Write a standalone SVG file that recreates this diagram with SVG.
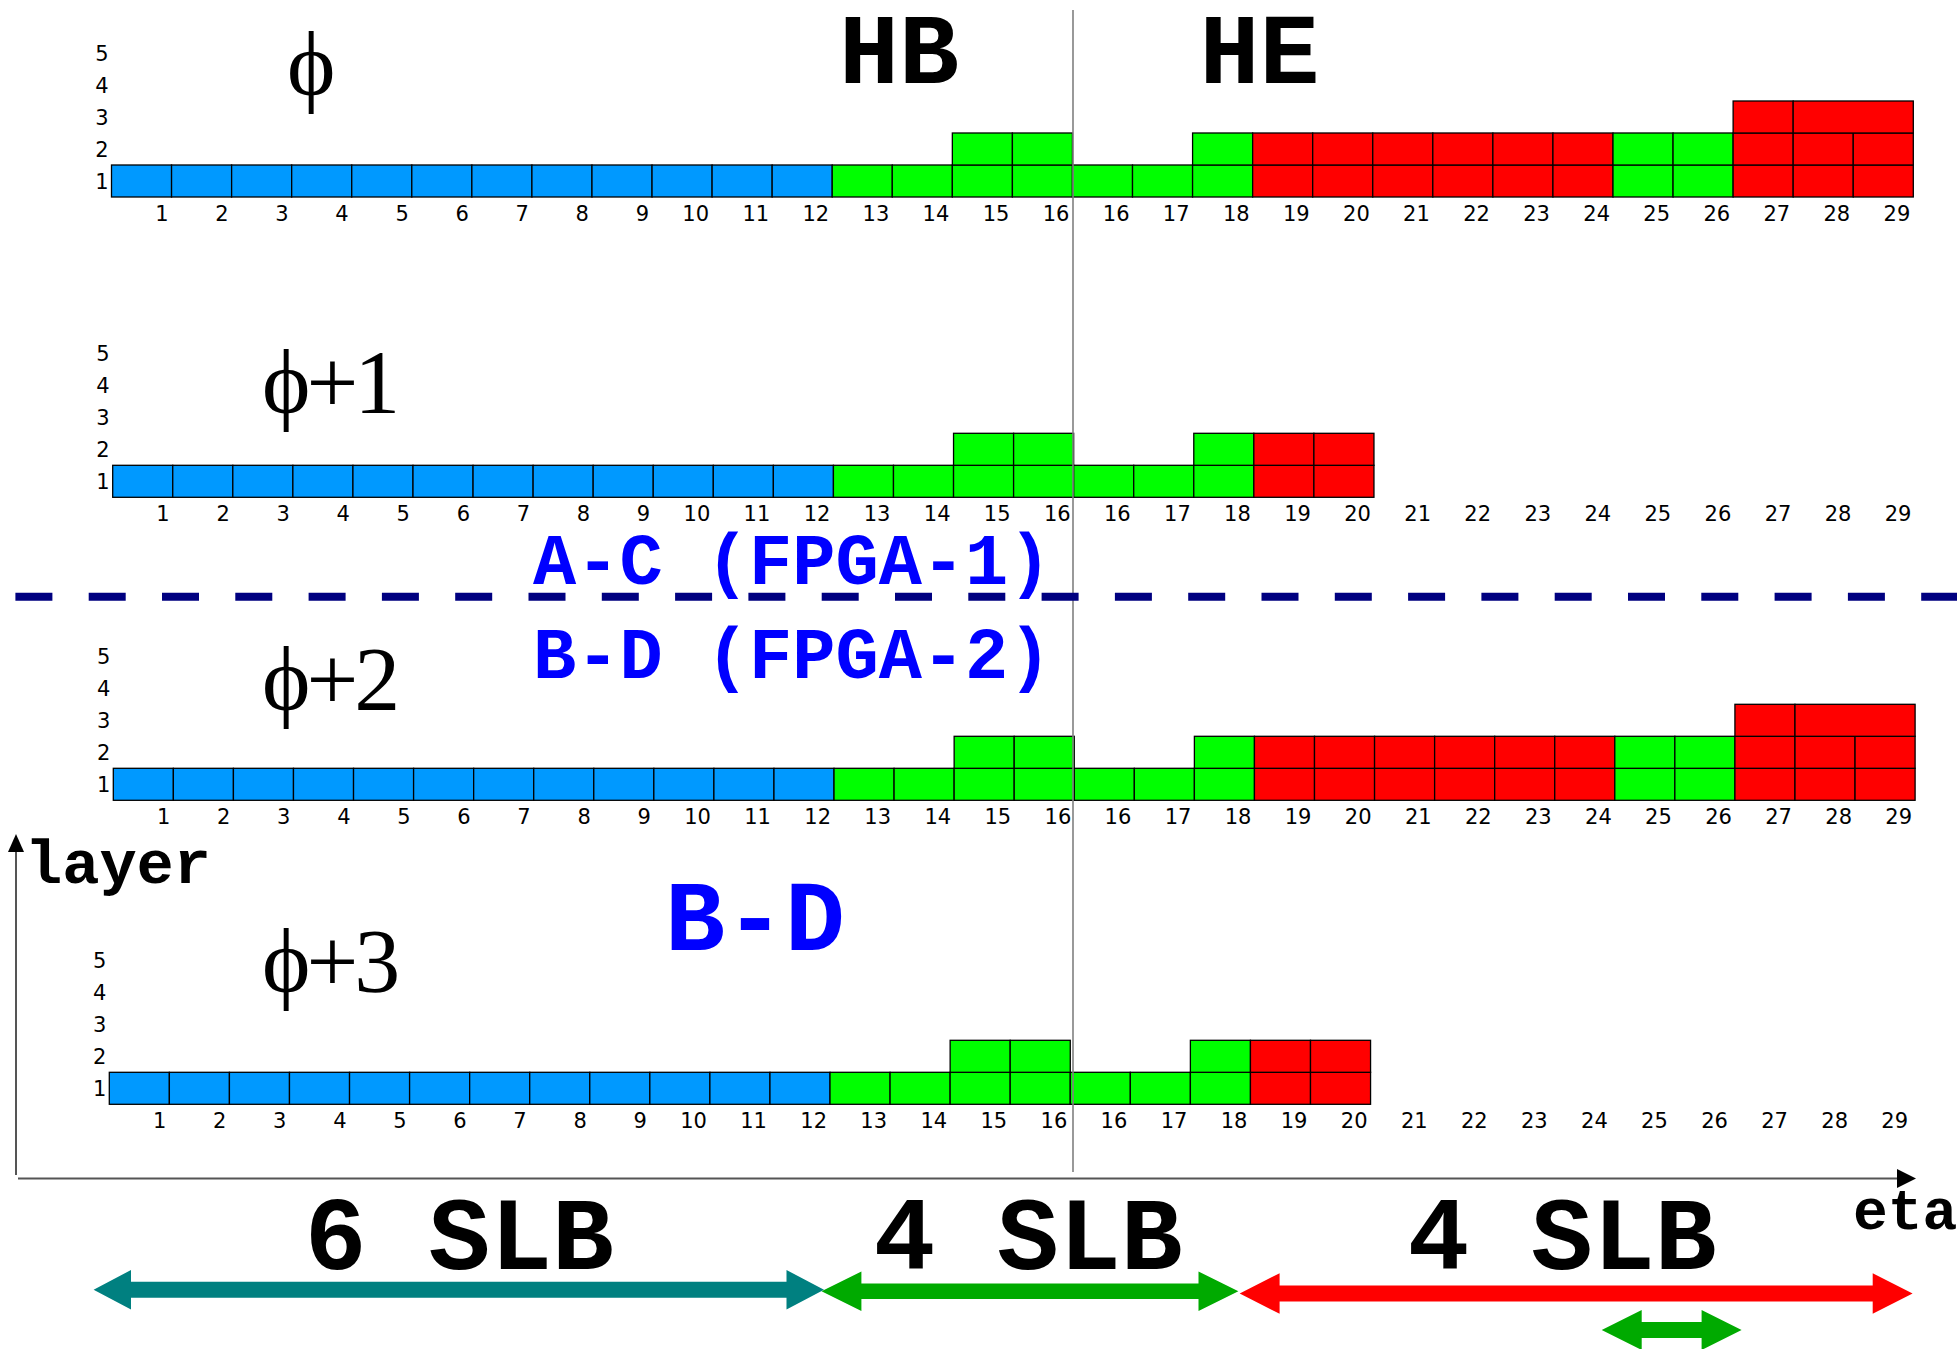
<svg xmlns="http://www.w3.org/2000/svg" width="1957" height="1349" viewBox="0 0 1957 1349">
<style>
.b{fill:#0099ff;stroke:#000;stroke-width:1.3}
.g{fill:#00ff00;stroke:#000;stroke-width:1.3}
.r{fill:#ff0000;stroke:#000;stroke-width:1.3}
.num{font-family:"DejaVu Sans","Liberation Sans",sans-serif;font-size:21px;fill:#000}
.cn{text-anchor:end}
.phi{font-family:"Liberation Serif","Times New Roman",serif;font-size:92px;fill:#000;letter-spacing:-4px}
.mono{font-family:"Liberation Mono","Courier New",monospace;font-weight:bold}
</style>
<defs>
<g id="colnums" class="num cn">
<text x="57.06" y="55.5">1</text><text x="117.12" y="55.5">2</text><text x="177.18" y="55.5">3</text><text x="237.24" y="55.5">4</text><text x="297.3" y="55.5">5</text><text x="357.36" y="55.5">6</text><text x="417.42" y="55.5">7</text><text x="477.48" y="55.5">8</text><text x="537.54" y="55.5">9</text><text x="597.6" y="55.5">10</text><text x="657.66" y="55.5">11</text><text x="717.72" y="55.5">12</text><text x="777.78" y="55.5">13</text><text x="837.84" y="55.5">14</text><text x="897.9" y="55.5">15</text><text x="957.96" y="55.5">16</text><text x="1018.02" y="55.5">16</text><text x="1078.08" y="55.5">17</text><text x="1138.14" y="55.5">18</text><text x="1198.2" y="55.5">19</text><text x="1258.26" y="55.5">20</text><text x="1318.32" y="55.5">21</text><text x="1378.38" y="55.5">22</text><text x="1438.44" y="55.5">23</text><text x="1498.5" y="55.5">24</text><text x="1558.56" y="55.5">25</text><text x="1618.62" y="55.5">26</text><text x="1678.68" y="55.5">27</text><text x="1738.74" y="55.5">28</text><text x="1798.8" y="55.5">29</text>
</g>
<g id="laynums" class="num cn">
<text x="-3" y="23.5">1</text><text x="-3" y="-8.5">2</text><text x="-3" y="-40.5">3</text><text x="-3" y="-72.5">4</text><text x="-3" y="-104.5">5</text>
</g>
<g id="base">
<rect class="b" x="0" y="0" width="60.06" height="32"/><rect class="b" x="60.06" y="0" width="60.06" height="32"/><rect class="b" x="120.12" y="0" width="60.06" height="32"/><rect class="b" x="180.18" y="0" width="60.06" height="32"/><rect class="b" x="240.24" y="0" width="60.06" height="32"/><rect class="b" x="300.3" y="0" width="60.06" height="32"/><rect class="b" x="360.36" y="0" width="60.06" height="32"/><rect class="b" x="420.42" y="0" width="60.06" height="32"/><rect class="b" x="480.48" y="0" width="60.06" height="32"/><rect class="b" x="540.54" y="0" width="60.06" height="32"/><rect class="b" x="600.6" y="0" width="60.06" height="32"/><rect class="b" x="660.66" y="0" width="60.06" height="32"/>
<rect class="g" x="720.72" y="0" width="60.06" height="32"/><rect class="g" x="780.78" y="0" width="60.06" height="32"/><rect class="g" x="840.84" y="0" width="60.06" height="32"/><rect class="g" x="900.9" y="0" width="60.06" height="32"/><rect class="g" x="960.96" y="0" width="60.06" height="32"/><rect class="g" x="1021.02" y="0" width="60.06" height="32"/><rect class="g" x="1081.08" y="0" width="60.06" height="32"/>
<rect class="g" x="840.84" y="-32" width="60.06" height="32"/><rect class="g" x="900.9" y="-32" width="60.06" height="32"/><rect class="g" x="1081.08" y="-32" width="60.06" height="32"/>
<rect class="r" x="1141.14" y="0" width="60.06" height="32"/><rect class="r" x="1201.2" y="0" width="60.06" height="32"/>
<rect class="r" x="1141.14" y="-32" width="60.06" height="32"/><rect class="r" x="1201.2" y="-32" width="60.06" height="32"/>
</g>
<g id="ext">
<rect class="r" x="1261.26" y="0" width="60.06" height="32"/><rect class="r" x="1321.32" y="0" width="60.06" height="32"/><rect class="r" x="1381.38" y="0" width="60.06" height="32"/><rect class="r" x="1441.44" y="0" width="60.06" height="32"/>
<rect class="r" x="1261.26" y="-32" width="60.06" height="32"/><rect class="r" x="1321.32" y="-32" width="60.06" height="32"/><rect class="r" x="1381.38" y="-32" width="60.06" height="32"/><rect class="r" x="1441.44" y="-32" width="60.06" height="32"/>
<rect class="g" x="1501.5" y="0" width="60.06" height="32"/><rect class="g" x="1561.56" y="0" width="60.06" height="32"/>
<rect class="g" x="1501.5" y="-32" width="60.06" height="32"/><rect class="g" x="1561.56" y="-32" width="60.06" height="32"/>
<rect class="r" x="1621.62" y="0" width="60.06" height="32"/><rect class="r" x="1681.68" y="0" width="60.06" height="32"/><rect class="r" x="1741.74" y="0" width="60.06" height="32"/>
<rect class="r" x="1621.62" y="-32" width="60.06" height="32"/><rect class="r" x="1681.68" y="-32" width="60.06" height="32"/><rect class="r" x="1741.74" y="-32" width="60.06" height="32"/>
<rect class="r" x="1621.62" y="-64" width="60.06" height="32"/><rect class="r" x="1681.68" y="-64" width="120.12" height="32"/>
</g>
</defs>

<g id="row-phi" transform="translate(111.5,165)">
<use href="#base"/><use href="#ext"/><use href="#colnums"/><use href="#laynums"/>
</g>
<text id="label-phi" class="phi" x="287" y="95">ϕ</text>

<g id="row-phi1" transform="translate(112.7,465.3)">
<use href="#base"/><use href="#colnums"/><use href="#laynums"/>
</g>
<text id="label-phi1" class="phi" x="262" y="413.3">ϕ+1</text>

<g id="row-phi2" transform="translate(113.3,768.3)">
<use href="#base"/><use href="#ext"/><use href="#colnums"/><use href="#laynums"/>
</g>
<text id="label-phi2" class="phi" x="262" y="709.6">ϕ+2</text>

<g id="row-phi3" transform="translate(109.3,1072.3)">
<use href="#base"/><use href="#colnums"/><use href="#laynums"/>
</g>
<text id="label-phi3" class="phi" x="262" y="992.3">ϕ+3</text>

<g id="headers" class="mono" fill="#000">
<text x="899" y="83.3" font-size="100" text-anchor="middle">HB</text>
<text x="1259.4" y="83.3" font-size="100" text-anchor="middle">HE</text>
</g>

<g id="connectors">
<line x1="1073" y1="10" x2="1073" y2="1172" stroke="#808080" stroke-width="1.6"/>
<line x1="15.4" y1="596.7" x2="1957" y2="596.7" stroke="#000080" stroke-width="8" stroke-dasharray="37 36.3"/>
<line x1="16" y1="1175" x2="16" y2="850" stroke="#555" stroke-width="2"/>
<polygon points="16,834 8,852 24,852" fill="#000"/>
<line x1="18" y1="1178.5" x2="1898" y2="1178.5" stroke="#555" stroke-width="2"/>
<polygon points="1916,1178.5 1897,1169 1897,1188" fill="#000"/>
<polygon fill="#008080" points="93.6,1289.7 131,1270 131,1281.7 786.5,1281.7 786.5,1270 824,1289.7 786.5,1309.4 786.5,1297.7 131,1297.7 131,1309.4"/>
<polygon fill="#00aa00" points="821.5,1291.2 861.4,1271.4 861.4,1283.4 1198.5,1283.4 1198.5,1271.4 1238.4,1291.2 1198.5,1311 1198.5,1299 861.4,1299 861.4,1311"/>
<polygon fill="#ff0000" points="1239.7,1293.5 1279.6,1273.2 1279.6,1285.5 1872.7,1285.5 1872.7,1273.2 1912.6,1293.5 1872.7,1313.8 1872.7,1301.5 1279.6,1301.5 1279.6,1313.8"/>
<polygon fill="#00aa00" points="1601.7,1330 1641.7,1310 1641.7,1322 1701.6,1322 1701.6,1310 1741.6,1330 1701.6,1350 1701.6,1338 1641.7,1338 1641.7,1350"/>
</g>

<g id="fpga-labels" class="mono" fill="#0000ff">
<text x="533" y="584" font-size="72">A-C (FPGA-1)</text>
<text x="533" y="678" font-size="72">B-D (FPGA-2)</text>
<text x="755" y="950" font-size="100" text-anchor="middle">B-D</text>
</g>

<g id="axis-labels" class="mono" fill="#000">
<text x="25" y="883.3" font-size="62">layer</text>
<text x="1853" y="1229.3" font-size="58">eta</text>
</g>

<g id="slb-labels" class="mono" fill="#000" font-size="103" text-anchor="middle">
<text x="459.4" y="1269">6 SLB</text>
<text x="1028" y="1269">4 SLB</text>
<text x="1562" y="1269">4 SLB</text>
</g>
</svg>
